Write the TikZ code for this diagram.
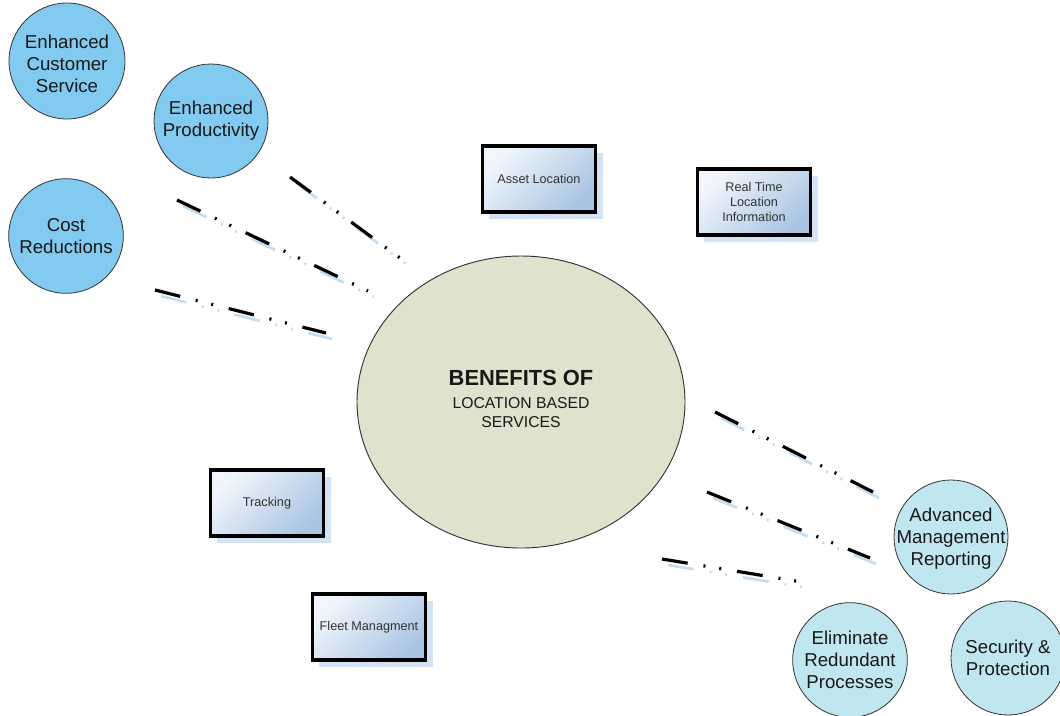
\documentclass[tikz,border=0pt]{standalone}
\usepackage{fontspec}
\setmainfont{Liberation Sans}
\usetikzlibrary{shapes.geometric,shadows}
\definecolor{lbblue}{RGB}{130,202,240}
\definecolor{lcyan}{RGB}{192,230,240}
\definecolor{hubgreen}{RGB}{221,227,204}
\definecolor{rectlight}{RGB}{242,246,252}
\definecolor{rectdark}{RGB}{170,197,226}
\definecolor{rshadow}{RGB}{212,227,243}
\definecolor{lshadow}{RGB}{195,220,238}
\definecolor{txt}{RGB}{25,25,25}
\tikzset{
  bubble/.style={circle, draw=black!80, line width=0.6pt, minimum size=#1, inner sep=0pt},
  bubtext/.style={align=center, text=txt, inner sep=0pt, font=\fontsize{14pt}{16.5pt}\selectfont},
  hubtext/.style={align=center, text=txt, inner sep=0pt, font=\fontsize{11.8pt}{14.25pt}\selectfont},
  infobox/.style={rectangle, draw=black, line width=2.5pt, minimum width=85pt, minimum height=49.5pt,
    top color=rectlight, bottom color=rectdark, shading angle=45,
    general shadow={fill=rshadow, shadow xshift=5.25pt, shadow yshift=-5.25pt},
    font=\fontsize{9.5pt}{11.25pt}\selectfont, text=black!80, align=center},
  lbline/.style={draw=black, line width=2.4pt,
    dash pattern=on 19.5pt off 12pt on 1.5pt off 10.5pt on 1.5pt off 12pt},
  lbshadow/.style={lbline, draw=lshadow, line width=2pt}
}
\begin{document}
\begin{tikzpicture}[x=0.75pt,y=-0.75pt]
\useasboundingbox (0,0) rectangle (1060,715);

% left benefit bubbles
\node[bubble=87pt, fill=lbblue, label={[bubtext, yshift=-2pt]center:Enhanced\\Customer\\Service}] (ecs) at (67,61) {};
\node[bubble=85.5pt, fill=lbblue, label={[bubtext]center:Enhanced\\Productivity}] (ep) at (211,121) {};
\node[bubble=86pt, fill=lbblue, label={[bubtext]center:Cost\\Reductions}] (cr) at (66,236) {};

% right benefit bubbles
\node[bubble=85.5pt, fill=lcyan, label={[bubtext, yshift=-1pt]center:Advanced\\Management\\Reporting}] (amr) at (951,537) {};
\node[bubble=86pt, fill=lcyan, label={[bubtext]center:Eliminate\\Redundant\\Processes}] (erp) at (850,660) {};
\node[bubble=85.5pt, fill=lcyan, label={[bubtext]center:Security \&\\Protection}] (sp) at (1008,658) {};

% hub
\node[ellipse, draw=black!80, line width=0.7pt, fill=hubgreen, minimum width=246pt, minimum height=219pt, inner sep=0pt,
  label={[hubtext, yshift=2.5pt]center:{\fontsize{16.4pt}{19pt}\selectfont\bfseries BENEFITS OF}\\[3pt]LOCATION BASED\\SERVICES}] (hub) at (521,402) {};

% service boxes
\node[infobox] (asset) at (539,179) {Asset Location};
\node[infobox] (rtl) at (754,202) {Real Time\\Location\\Information};
\node[infobox] (track) at (267,503) {Tracking};
\node[infobox] (fleet) at (369,627) {Fleet Managment};

% dash-dot-dot connector ends
\coordinate (l1a) at (290,177); \coordinate (l1b) at (400,258);
\coordinate (l2a) at (177,200); \coordinate (l2b) at (368,291);
\coordinate (l3a) at (155,290); \coordinate (l3b) at (326,333);
\coordinate (r1a) at (715,412); \coordinate (r1b) at (873,492);
\coordinate (r2a) at (707,492); \coordinate (r2b) at (870,558);
\coordinate (r3a) at (662,559); \coordinate (r3b) at (796,581);

\foreach \a/\b in {l1a/l1b,l2a/l2b,l3a/l3b,r1a/r1b,r2a/r2b,r3a/r3b}{
  \draw[lbshadow] ([shift={(6,6)}]\a) -- ([shift={(6,6)}]\b);
  \draw[lbline] (\a) -- (\b);
}
\end{tikzpicture}
\end{document}
